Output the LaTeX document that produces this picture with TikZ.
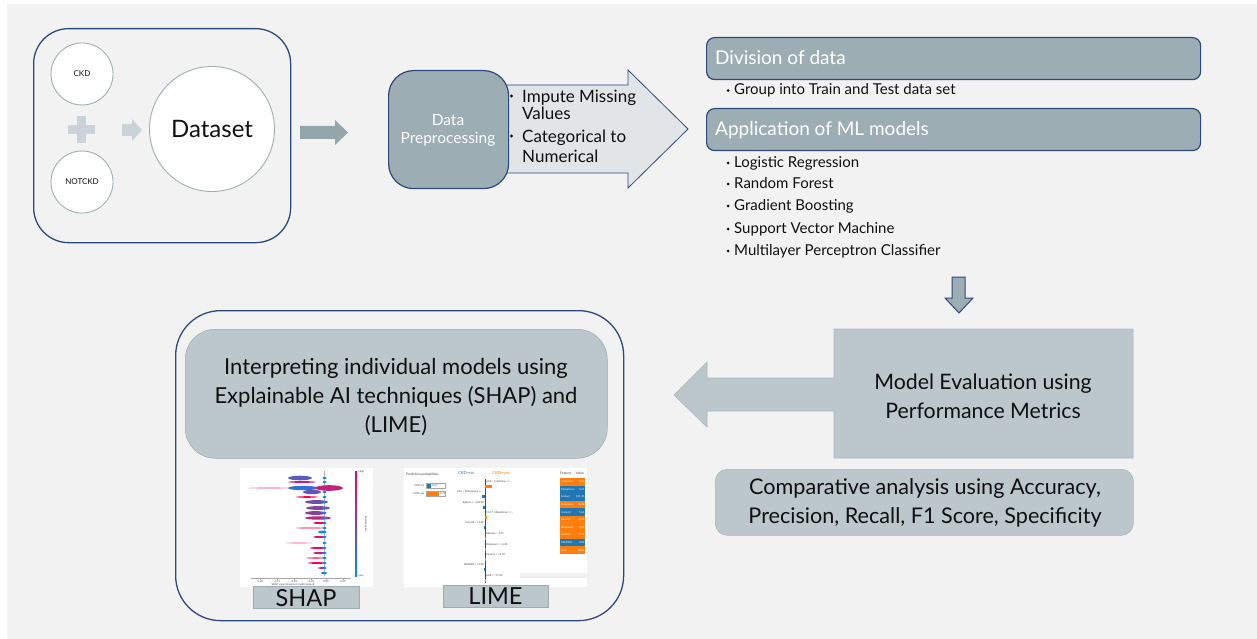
\documentclass[tikz,border=0pt]{standalone}
\usepackage{fontspec}
\setmainfont{Lato}
\usetikzlibrary{calc}
\definecolor{bg}{HTML}{F2F2F2}
\definecolor{navy}{HTML}{2E4A7D}
\definecolor{slate}{HTML}{9CAEB4}
\definecolor{pale}{HTML}{BBC7CB}
\definecolor{paleedge}{HTML}{A9B7BC}
\definecolor{mist}{HTML}{E1E5E7}
\definecolor{ring}{HTML}{A2B0B4}
\definecolor{ghost}{HTML}{CAD3D7}
\definecolor{ink}{HTML}{101010}
\definecolor{shapblue}{HTML}{008BFB}
\definecolor{shapred}{HTML}{FF0052}
\definecolor{limeblue}{HTML}{1F77B4}
\definecolor{limeorange}{HTML}{FF7F0E}
\begin{document}
\begin{tikzpicture}[x=1pt,y=-1pt,
  txt/.style={inner sep=0pt, text=ink},
  header/.style={draw=navy, line width=1.2pt, fill=slate, rounded corners=8pt,
    minimum width=494pt, minimum height=42pt, anchor=north west},
  headtext/.style={inner sep=0pt, text=white, font=\fontsize{19}{19}\selectfont, anchor=base west},
  listtext/.style={inner sep=0pt, text=ink, font=\fontsize{15}{15}\selectfont, anchor=base west},
  bigtext/.style={inner sep=0pt, text=ink, font=\fontsize{17}{17}\selectfont, anchor=base west},
  smallcircle/.style={circle, draw=ring, line width=0.9pt, fill=white, minimum size=62pt,
    inner sep=0pt, font=\fontsize{8}{8}\selectfont, text=ink},
  palebox/.style={fill=pale, draw=paleedge, line width=0.6pt},
  tiny/.style={inner sep=0pt, font=\fontsize{2.6}{3}\selectfont, text=black!75}
]
\useasboundingbox (0,0) rectangle (1257,639);
\fill[white] (0,0) rectangle (1257,639);
\fill[bg] (7,4) rectangle (1257,639);

% ---------- dataset panel ----------
\node[draw=navy, line width=1.3pt, rounded corners=35pt, fill=bg,
  minimum width=257pt, minimum height=214pt, anchor=north west] (dsbox) at (33,28) {};
\node[smallcircle] (ckd) at (82,74) {CKD};
\node[smallcircle] (notckd) at (82,182) {NOTCKD};
\fill[ghost] (68,125) rectangle (95,134);
\fill[ghost] (77,116) rectangle (86,143);
\fill[ghost] (122,124) -- (132,124) -- (132,119) -- (142,130) -- (132,141) -- (132,136) -- (122,136) -- cycle;
\node[circle, draw=ring, line width=0.9pt, fill=white, minimum size=125pt, inner sep=0pt,
  font=\fontsize{24}{24}\selectfont, text=ink] (dataset) at (212,129) {Dataset};

% arrow into preprocessing
\fill[slate!95!black] (300,126) -- (335,126) -- (335,120) -- (348,132.5) -- (335,145) -- (335,139) -- (300,139) -- cycle;

% ---------- preprocessing ----------
\draw[navy, line width=0.8pt, fill=mist] (470,85) -- (628,85) -- (628,70) -- (688,129) -- (628,188) -- (628,173) -- (470,173) -- cycle;
\node[draw=navy, line width=1.2pt, fill=slate, rounded corners=25pt, minimum width=120pt,
  minimum height=118pt, anchor=north west] (prepbox) at (388,70) {};
\node[inner sep=0pt, text=white, align=center, font=\fontsize{15.5}{18}\selectfont] (preptext) at (448,130) {Data\\Preprocessing};
\fill[ink] (511.5,96) circle (1.7pt);
\node[bigtext] (imp1) at (522,103) {Impute Missing};
\node[bigtext] (imp2) at (522,120) {Values};
\fill[ink] (511.5,136) circle (1.7pt);
\node[bigtext] (cat1) at (522,143) {Categorical to};
\node[bigtext] (cat2) at (522,163) {Numerical};

% ---------- data division and models ----------
\node[header] (divhead) at (706,37) {};
\node[headtext] at (715,65) {Division of data};
\fill[ink] (728,90.5) circle (1.5pt);
\node[listtext] (grp) at (734,95) {Group into Train and Test data set};
\node[header] (apphead) at (706,108) {};
\node[headtext] at (715,136) {Application of ML models};
\foreach \yy/\tt in {167.5/Logistic Regression, 188.5/Random Forest, 210.5/Gradient Boosting,
    233.5/Support Vector Machine, 255.5/Multilayer Perceptron Classifier} {
  \fill[ink] (728,\yy-4.5) circle (1.5pt);
  \node[listtext] at (734,\yy) {\tt};
}

% down arrow
\draw[navy, line width=1pt, fill=slate] (952,277) -- (965,277) -- (965,298) -- (973,298) -- (959,313) -- (945,298) -- (952,298) -- cycle;

% ---------- evaluation ----------
\draw[palebox] (834,329) -- (1133,329) -- (1133,458) -- (834,458) -- (834,411) -- (707,411) -- (707,427)
  -- (674,395) -- (707,362) -- (707,378) -- (834,378) -- cycle;
\node[txt, align=center, font=\fontsize{21.3}{29}\selectfont] (evaltext) at (983,396) {Model Evaluation using\\Performance Metrics};
\node[palebox, rounded corners=12pt, minimum width=418pt, minimum height=66pt, anchor=north west] (compbox) at (715,469) {};
\node[txt, align=center, font=\fontsize{21.6}{29}\selectfont] (comptext) at (925,503) {Comparative analysis using Accuracy,\\Precision, Recall, F1 Score, Specificity};

% ---------- interpretation panel ----------
\node[draw=navy, line width=1.3pt, rounded corners=45pt, fill=bg,
  minimum width=448pt, minimum height=310pt, anchor=north west] (xaibox) at (175,310) {};
\node[fill=pale, draw=pale!85!black, line width=0.5pt, rounded corners=30pt,
  minimum width=422pt, minimum height=129pt, anchor=north west] (xaihead) at (185,329) {};
\node[txt, align=center, font=\fontsize{22}{29}\selectfont] (xaitext) at (396,397)
  {Interpreting individual models using\\Explainable AI techniques (SHAP) and\\(LIME)};

% SHAP summary plot
\node[fill=white, minimum width=133pt, minimum height=119pt, anchor=north west, inner sep=0pt] (shapimg) at (240,468) {};
\draw[gray!60, line width=0.4pt] (324,471) -- (324,576);
\foreach \yy/\xa/\xb/\cc/\hh in {
  478/288/312/shapblue!65!shapred/2.3,
  482/288/316/shapred!85!shapblue/0.9,
  488/248/290/shapred!45!white/0.6,
  488/288/318/shapblue!80!shapred/2.2,
  488/315/343/shapred!75!shapblue/2.8,
  492/303/321/shapblue!60!shapred/2.2,
  497/296/318/shapred/0.8,
  502/305/328/shapblue!55!shapred/1.9,
  508/306/330/shapblue!50!shapred/1.9,
  513/305/326/shapblue!45!shapred/1.9,
  518/305/331/shapred!70!shapblue/1.7,
  523/313/325/shapred/1.0,
  528/296/325/shapred!65!white/0.7,
  532/318/326/shapblue/1.4,
  537/313/326/shapred!85!shapblue/1.0,
  543/285/313/shapred!40!white/0.6,
  548/310/326/shapred/1.0,
  553/313/326/shapred!80!shapblue/1.1,
  558/306/326/shapred!65!white/0.8,
  563/308/326/shapred/0.9,
  568/318/326/shapred!80!shapblue/0.9,
  573/321/327/shapblue!70!shapred/1.1} {
  \fill[\cc] ({(\xa+\xb)/2},\yy) ellipse [x radius={(\xb-\xa)/2*1pt}, y radius=\hh pt];
}
\foreach \yy in {478,482,492,497,502,508,513,518,523,528,532,537,543,548,553,558,563,568,573} {
  \fill[shapblue] (324.5,\yy) ellipse [x radius=2pt, y radius=1pt];
}
\draw[gray!70, line width=0.4pt] (251,578) -- (351,578);
\foreach \xx/\lb in {260/-0.20, 277/-0.15, 294/-0.10, 311/-0.05, 326/0.00, 343/0.05} {
  \draw[gray!70, line width=0.3pt] (\xx,578) -- (\xx,579.5);
  \node[tiny, anchor=north] at (\xx,580) {\lb};
}
\node[tiny, anchor=north] at (293,583.2) {SHAP value (impact on model output)};
\shade[bottom color=shapblue, top color=shapred] (355,471) rectangle (357,576);
\node[tiny, anchor=west] at (358.5,472) {High};
\node[tiny, anchor=west] at (358.5,576) {Low};
\node[tiny, rotate=-90] at (366,524) {Feature value};

% LIME explanation
\node[fill=white, minimum width=183pt, minimum height=119pt, anchor=north west, inner sep=0pt] (limeimg) at (404,468) {};
\node[tiny, anchor=west, font=\fontsize{3.2}{3.5}\selectfont] at (406,475) {Prediction probabilities};
\node[tiny, anchor=east] at (424.5,485.5) {CKD=no};
\fill[limeblue] (426,483) rectangle (430.5,488);
\draw[gray!70, line width=0.3pt] (426,483) rectangle (445,488);
\node[tiny, anchor=west] at (432,485.5) {0.27};
\node[tiny, anchor=east] at (424.5,494) {CKD=yes};
\fill[limeorange] (426,491.5) rectangle (439,496.5);
\draw[gray!70, line width=0.3pt] (426,491.5) rectangle (445,496.5);
\node[tiny, anchor=west] at (440,494) {0.73};
\node[tiny, text=limeblue, font=\fontsize{4.2}{4.2}\selectfont] at (466,473) {CKD=no};
\node[tiny, text=limeorange, font=\fontsize{4.2}{4.2}\selectfont] at (501,473) {CKD=yes};
\draw[black!70, line width=0.5pt] (485,479) -- (485,583);
\foreach \yy/\len/\lb in {482/7/{4.81 < Creatinine <=...}, 513/1.5/{51.17 < BloodUrea <=...},
    534/1.2/{Albumin > 3.97}, 545/1/{Potassium <= 4.30}, 555/1/{Calcium <= 8.70}, 576/1/{AGE <= 57.00}} {
  \node[tiny, anchor=west] at (486,\yy) {\lb};
  \fill[limeorange] (485,\yy+2.5) rectangle (485+\len,\yy+6);
}
\foreach \yy/\len/\lb in {492/3/{3.31 < Phosphorus <=...}, 503/2/{Sodium <= 134.00},
    523/1.5/{Uricacid <= 4.00}, 565/1/{GENDER <= 0.00}} {
  \node[tiny, anchor=east] at (484,\yy) {\lb};
  \fill[limeblue] (485-\len,\yy+2.5) rectangle (485,\yy+6);
}
\fill[gray!12] (520,573) rectangle (587,578);
\node[tiny, anchor=west, font=\fontsize{3.4}{3.4}\selectfont] at (560,473) {Feature};
\node[tiny, anchor=west, font=\fontsize{3.4}{3.4}\selectfont] at (575.5,473) {Value};
\foreach \i/\cc/\ft/\vl in {0/limeorange/Creatinine/5.90, 1/limeblue/Phosphorus/3.67, 2/limeblue/Sodium/131.10,
    3/limeorange/BloodUrea/58.00, 4/limeblue/Uricacid/5.60, 5/limeorange/Albumin/4.20,
    6/limeorange/Potassium/3.90, 7/limeorange/Calcium/7.70, 8/limeblue/GENDER/0.00, 9/limeorange/AGE/18.00} {
  \fill[\cc] (560,478+\i*7.6) rectangle (585,478+\i*7.6+7.6);
  \node[tiny, text=white, anchor=west] at (561,478+\i*7.6+3.8) {\ft};
  \node[tiny, text=white, anchor=east] at (584.5,478+\i*7.6+3.8) {\vl};
}

% image captions
\node[fill=pale, draw=slate, line width=0.6pt, minimum width=106pt, minimum height=22pt,
  anchor=north west] (shapcap) at (253,586) {};
\node[txt, font=\fontsize{23.5}{23.5}\selectfont] at (306,598) {SHAP};
\node[fill=pale, draw=slate, line width=0.6pt, minimum width=105pt, minimum height=22pt,
  anchor=north west] (limecap) at (443,585) {};
\node[txt, font=\fontsize{23.5}{23.5}\selectfont] at (495.5,596.5) {LIME};
\end{tikzpicture}
\end{document}
